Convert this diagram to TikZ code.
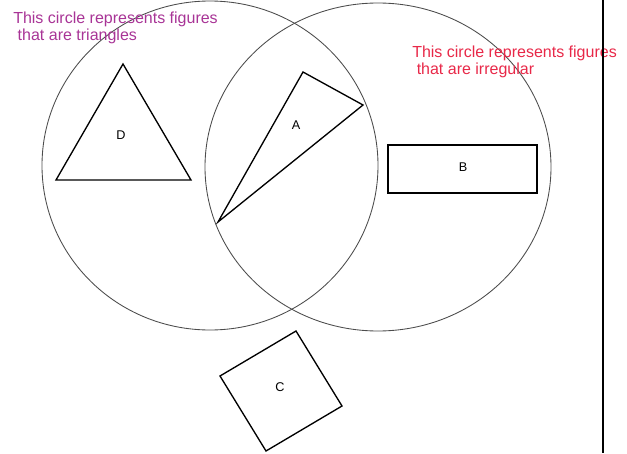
\documentclass[tikz,border=0pt]{standalone}
\usepackage{fontspec}
\setmainfont{Liberation Sans}
\usetikzlibrary{positioning}
\definecolor{notepurple}{RGB}{168,52,150}
\definecolor{notered}{RGB}{232,40,72}

\begin{document}
\begin{tikzpicture}[
  x=0.75pt,y=-0.75pt,
  set/.style={draw=black!70,line width=0.65pt},
  fig/.style={draw=black,line width=1pt,line join=miter},
  lab/.style={font=\fontsize{9.5}{10}\selectfont,inner sep=0pt},
  note/.style={font=\fontsize{12}{11}\selectfont,align=left,inner sep=0pt,anchor=north west}
]
\useasboundingbox (0,0) rectangle (627,453);
% the two sets
\draw[set] (210,165.5) ellipse [x radius=168,y radius=164.5];
\draw[set] (378,167) ellipse [x radius=173,y radius=164];
% D: triangle, not irregular
\coordinate (d1) at (123,64);
\coordinate (d2) at (56,180);
\coordinate (d3) at (191,180);
\draw[fig] (d1) -- (d2) -- (d3) -- cycle;
\node[lab] (d) at (121,135) {D};
% A: irregular triangle
\coordinate (a1) at (303,72);
\coordinate (a2) at (363,105);
\coordinate (a3) at (218,222);
\draw[fig] (a1) -- (a2) -- (a3) -- cycle;
\node[lab] (a) at (296,125) {A};
% B: rectangle
\draw[fig] (388,145) rectangle (537,193);
\node[lab] (b) at (463,167) {B};
% C: square, outside both
\coordinate (c1) at (296,331);
\coordinate (c2) at (342,406);
\coordinate (c3) at (266,451);
\coordinate (c4) at (220,376);
\draw[fig] (c1) -- (c2) -- (c3) -- (c4) -- cycle;
\node[lab] (c) at (280,387) {C};
% notes
\node[note,text=notepurple] (tri) at (13,12) {This circle represents figures\\\hspace*{0.28em}that are triangles};
\node[note,text=notered] (irr) at (412,46) {This circle represents figures\\\hspace*{0.28em}that are irregular};
% edge line on the right
\draw[line width=1.5pt] (603,0) -- (603,453);
\end{tikzpicture}
\end{document}
